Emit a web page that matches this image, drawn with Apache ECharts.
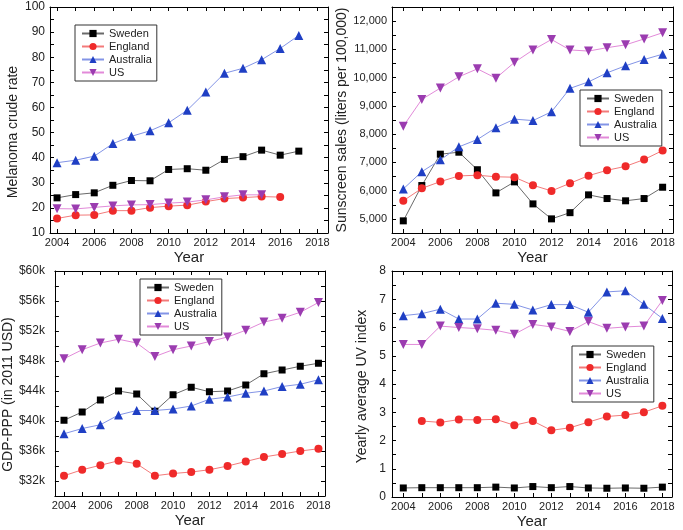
<!DOCTYPE html>
<html lang="en">
<head>
<meta charset="UTF-8">
<title>Melanoma, sunscreen, GDP and UV index</title>
<script src="https://cdn.jsdelivr.net/npm/echarts@6/dist/echarts.min.js"></script>
<style>
    html, body { margin: 0; padding: 0; background: #fff; }
    #main { width: 683px; height: 530px; }
</style>
</head>
<body>
<div id="main"></div>
<script>
var years = [2004, 2005, 2006, 2007, 2008, 2009, 2010, 2011, 2012, 2013, 2014, 2015, 2016, 2017, 2018];
var countries = ['Sweden', 'England', 'Australia', 'US'];

// melanoma crude rate (null = no data that year)
var melSweden    = [24.0, 25.3, 26.0, 29.0, 30.9, 30.8, 35.3, 35.6, 35.0, 39.3, 40.4, 43.0, 41.0, 42.6, null];
var melEngland   = [15.8, 17.1, 17.2, 18.9, 18.9, 20.1, 20.7, 21.1, 22.5, 23.7, 24.1, 24.5, 24.3, null, null];
var melAustralia = [38.0, 39.0, 40.6, 45.6, 48.5, 50.7, 53.9, 58.9, 66.2, 73.6, 75.6, 79.0, 83.5, 88.7, null];
var melUS        = [19.7, 19.6, 20.2, 20.8, 21.2, 21.3, 21.9, 22.3, 23.2, 24.4, 25.2, 25.2, null, null, null];

// sunscreen sales, liters per 100,000
var sunSweden    = [4930, 6180, 7290, 7360, 6740, 5920, 6310, 5530, 5000, 5220, 5850, 5720, 5640, 5720, 6120];
var sunEngland   = [5640, 6080, 6320, 6520, 6545, 6490, 6475, 6190, 5990, 6260, 6530, 6720, 6860, 7100, 7420];
var sunAustralia = [6060, 6670, 7090, 7550, 7810, 8230, 8530, 8480, 8790, 9620, 9850, 10170, 10420, 10640, 10830];
var sunUS        = [8280, 9230, 9630, 10030, 10310, 9980, 10540, 10980, 11350, 10980, 10940, 11060, 11160, 11370, 11590];

// GDP-PPP, thousands of 2011 USD
var gdpSweden    = [40.1, 41.2, 42.8, 44.0, 43.6, 41.3, 43.5, 44.5, 43.9, 44.0, 44.8, 46.3, 46.8, 47.3, 47.7];
var gdpEngland   = [32.7, 33.5, 34.1, 34.7, 34.3, 32.7, 33.0, 33.2, 33.5, 34.0, 34.6, 35.2, 35.6, 36.0, 36.3];
var gdpAustralia = [38.3, 39.0, 39.5, 40.8, 41.4, 41.4, 41.6, 42.0, 42.9, 43.2, 43.7, 44.0, 44.6, 44.9, 45.5];
var gdpUS        = [48.3, 49.5, 50.4, 50.9, 50.4, 48.6, 49.5, 50.0, 50.6, 51.2, 52.1, 53.2, 53.7, 54.5, 55.8];

// yearly average UV index
var uvSweden    = [0.32, 0.33, 0.33, 0.33, 0.33, 0.35, 0.32, 0.37, 0.33, 0.37, 0.32, 0.31, 0.32, 0.31, 0.35];
var uvEngland   = [null, 2.69, 2.64, 2.74, 2.73, 2.75, 2.54, 2.69, 2.36, 2.45, 2.65, 2.85, 2.90, 3.00, 3.23];
var uvAustralia = [6.42, 6.49, 6.65, 6.30, 6.30, 6.86, 6.82, 6.62, 6.81, 6.81, 6.54, 7.26, 7.30, 6.82, 6.32];
var uvUS        = [5.40, 5.40, 6.05, 6.00, 5.96, 5.90, 5.76, 6.11, 6.02, 5.86, 6.21, 5.97, 6.02, 6.05, 6.96];

// tick labels
var yearLabels = [2004, 2006, 2008, 2010, 2012, 2014, 2016, 2018];
var melTicks = [10, 20, 30, 40, 50, 60, 70, 80, 90, 100];
var sunTicks = [5000, 6000, 7000, 8000, 9000, 10000, 11000, 12000];
var gdpTicks = [32, 36, 40, 44, 48, 52, 56, 60];
var uvTicks  = [0, 1, 2, 3, 4, 5, 6, 7, 8];

var looks = {
    mark:   ['#000000', '#ef2a2a', '#1f3fc4', '#9b3cb0'],
    line:   ['#6a6a6a', '#f37a7a', '#8394e6', '#e28ad9'],
    symbol: ['rect', 'circle', 'triangle', 'triangle'],
    size:   [7, 8, 9, 9],
    rotate: [0, 0, 0, 180]
};

function pairs(vals) {
    var out = [];
    for (var i = 0; i < years.length; i++) {
        if (vals[i] != null) out.push([years[i], vals[i]]);
    }
    return out;
}
function halfSteps(lo, hi, step) {
    var out = [];
    for (var v = lo; v <= hi + 1e-9; v += step) out.push(v);
    return out;
}
function comma(v) {
    return String(v).replace(/\B(?=(\d{3})+(?!\d))/g, ',');
}

var panels = [
    {grid: {left: 50, top: 7, width: 278, height: 226}, xMin: 2003.62, xMax: 2018.57,
     yMin: 10, yMax: 100, ticks: melTicks, minor: 5, labelSize: 12, labelMargin: 5,
     name: 'Melanoma crude rate', nameGap: 30, namePad: [0, 24, 0, 0],
     fmt: function (v) { return String(v); }, legend: {left: 75, top: 25},
     data: [melSweden, melEngland, melAustralia, melUS]},
    {grid: {left: 392, top: 7, width: 281, height: 226}, xMin: 2003.39, xMax: 2018.56,
     yMin: 4500, yMax: 12500, ticks: sunTicks, minor: 500, labelSize: 11, labelMargin: 5,
     name: 'Sunscreen sales (liters per 100,000)', nameGap: 37, namePad: 0,
     fmt: comma, legend: {left: 580, top: 90},
     data: [sunSweden, sunEngland, sunAustralia, sunUS]},
    {grid: {left: 50, top: 271, width: 275, height: 225}, xMin: 2003.5, xMax: 2018.36,
     yMin: 30, yMax: 60, ticks: gdpTicks, minor: 2, labelSize: 12, labelMargin: 10,
     name: 'GDP-PPP (in 2011 USD)', nameGap: 32, namePad: [0, 22, 0, 0],
     fmt: function (v) { return '$' + v + 'k'; }, legend: {left: 140, top: 279},
     data: [gdpSweden, gdpEngland, gdpAustralia, gdpUS]},
    {grid: {left: 392, top: 271, width: 280, height: 226}, xMin: 2003.39, xMax: 2018.52,
     yMin: 0, yMax: 8, ticks: uvTicks, minor: 0.5, labelSize: 12, labelMargin: 6,
     name: 'Yearly average UV index', nameGap: 23, namePad: [0, 5, 0, 0],
     fmt: function (v) { return String(v); }, legend: {left: 572, top: 346},
     data: [uvSweden, uvEngland, uvAustralia, uvUS]}
];

var font = 'Liberation Sans, Arial, sans-serif';
var option = {
    animation: false,
    backgroundColor: '#fff',
    grid: [], xAxis: [], yAxis: [], legend: [], series: []
};

panels.forEach(function (p, k) {
    option.grid.push(p.grid);
    var yMinor = halfSteps(p.yMin, p.yMax, p.minor);
    var axLine = {show: true, onZero: false, lineStyle: {color: '#000', width: 1}};
    var tickX = {show: true, inside: true, length: 4, customValues: years, lineStyle: {color: '#000'}};
    var tickY = {show: true, inside: true, length: 4, customValues: yMinor, lineStyle: {color: '#000'}};

    // bottom and top x axes
    option.xAxis.push({
        type: 'value', gridIndex: k, min: p.xMin, max: p.xMax, position: 'bottom',
        axisLine: axLine, axisTick: tickX, splitLine: {show: false},
        axisLabel: {customValues: yearLabels, formatter: function (v) { return String(v); },
                    margin: 4, fontSize: 11, color: '#222', fontFamily: font},
        name: 'Year', nameLocation: 'middle', nameGap: 17,
        nameTextStyle: {fontSize: 15, color: '#222', fontFamily: font}
    });
    option.xAxis.push({
        type: 'value', gridIndex: k, min: p.xMin, max: p.xMax, position: 'top',
        axisLine: axLine, axisTick: tickX, splitLine: {show: false}, axisLabel: {show: false}
    });
    // left and right y axes
    option.yAxis.push({
        type: 'value', gridIndex: k, min: p.yMin, max: p.yMax, position: 'left',
        axisLine: axLine, axisTick: tickY, splitLine: {show: false},
        axisLabel: {customValues: p.ticks, formatter: p.fmt, margin: p.labelMargin,
                    fontSize: p.labelSize, color: '#222', fontFamily: font},
        name: p.name, nameLocation: 'middle', nameGap: p.nameGap,
        nameTextStyle: {fontSize: 14, color: '#222', fontFamily: font, padding: p.namePad}
    });
    option.yAxis.push({
        type: 'value', gridIndex: k, min: p.yMin, max: p.yMax, position: 'right',
        axisLine: axLine, axisTick: tickY, splitLine: {show: false}, axisLabel: {show: false}
    });

    var names = [];
    p.data.forEach(function (vals, i) {
        var id = countries[i] + '-' + k;
        names.push({name: id});
        option.series.push({
            name: id, type: 'line',
            xAxisIndex: k * 2, yAxisIndex: k * 2,
            data: pairs(vals),
            symbol: looks.symbol[i], symbolSize: looks.size[i], symbolRotate: looks.rotate[i],
            itemStyle: {color: looks.mark[i]},
            lineStyle: {color: looks.line[i], width: 1},
            z: 2 + i
        });
    });

    option.legend.push({
        data: names, orient: 'vertical',
        left: p.legend.left, top: p.legend.top,
        itemWidth: 22, itemHeight: 9, itemGap: 0,
        padding: [2, 5, 2, 6],
        borderColor: '#333', borderWidth: 1,
        formatter: function (n) { return n.split('-')[0]; },
        textStyle: {fontSize: 11, lineHeight: 13, color: '#222', fontFamily: font},
        selectedMode: false
    });
});

var chart = echarts.init(document.getElementById('main'));
chart.setOption(option);
</script>
</body>
</html>
